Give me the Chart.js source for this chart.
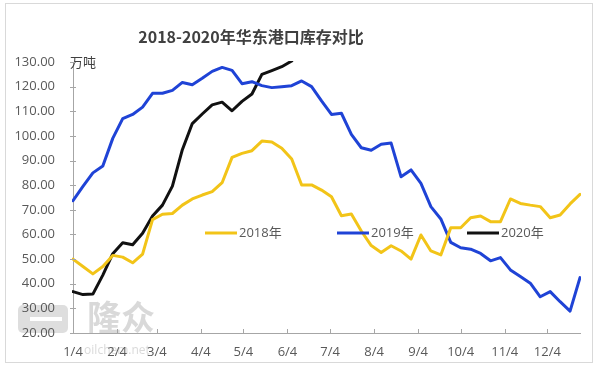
<!DOCTYPE html>
<html>
<head>
<meta charset="utf-8">
<script src="https://cdn.jsdelivr.net/npm/chart.js@4.4.1/dist/chart.umd.min.js"></script>
<style>
  html, body { margin: 0; padding: 0; background: #fff; }
  #wrap { width: 600px; height: 371px; }
</style>
</head>
<body>
<div id="wrap"><canvas id="stockChart" width="600" height="371"></canvas></div>
<script>
// weekly sample dates (plotted on one shared calendar)
const weeks = ['1/4', '1/11', '1/18', '1/25', '2/1', '2/8', '2/15', '2/22', '3/1', '3/8', '3/15', '3/22', '3/29',
    '4/5', '4/12', '4/19', '4/26', '5/3', '5/10', '5/17', '5/24', '5/31', '6/7', '6/14', '6/21', '6/28',
    '7/5', '7/12', '7/19', '7/26', '8/2', '8/9', '8/16', '8/23', '8/30', '9/6', '9/13', '9/20', '9/27',
    '10/4', '10/11', '10/18', '10/25', '11/1', '11/8', '11/15', '11/22', '11/29', '12/6', '12/13', '12/20', '12/27'];

// x axis tick labels
const monthTicks = ['1/4', '2/4', '3/4', '4/4', '5/4', '6/4', '7/4', '8/4', '9/4', '10/4', '11/4', '12/4'];

// inventory, 万吨
const stock2018 = [50.0, 47.0, 44.0, 47.0, 51.5, 50.8, 48.5, 52.0, 66.0, 68.2, 68.5, 71.9, 74.4,
    76.0, 77.4, 81.0, 91.3, 92.9, 94.0, 97.9, 97.5, 95.0, 90.6, 80.1, 80.1, 78.0,
    75.3, 67.6, 68.3, 61.4, 55.5, 52.7, 55.4, 53.3, 50.0, 59.8, 53.3, 51.7, 62.7,
    62.7, 66.8, 67.5, 65.2, 65.2, 74.4, 72.6, 71.9, 71.3, 66.8, 67.9, 72.4, 76.3];
const stock2019 = [73.7, 79.5, 85.0, 87.8, 99.0, 107.0, 108.7, 111.7, 117.3, 117.3, 118.5, 121.7, 120.8,
    123.4, 126.2, 127.8, 126.6, 121.2, 122.0, 120.4, 119.6, 120.0, 120.4, 122.3, 120.0, 114.2,
    108.7, 109.2, 100.6, 95.2, 94.2, 96.6, 97.1, 83.4, 86.2, 80.7, 71.3, 66.3, 56.8,
    54.6, 54.0, 52.3, 49.3, 50.6, 45.6, 42.9, 40.2, 34.7, 36.8, 32.7, 28.9, 42.5];
const stock2020 = [36.8, 35.6, 35.8, 43.5, 52.2, 56.6, 55.8, 60.5, 67.5, 71.9, 79.6, 94.4, 105.0,
    108.9, 112.6, 113.7, 110.2, 114.0, 117.0, 125.0, 126.5, 128.1, 130.4];

const seriesNames = ['2018年', '2019年', '2020年'];
const seriesColors = ['#f2c418', '#1f43d6', '#111111'];

const yTicks = [20, 30, 40, 50, 60, 70, 80, 90, 100, 110, 120, 130];

function dayOf(md) {
    const [m, d] = md.split('/').map(Number);
    return (Date.UTC(2019, m - 1, d) - Date.UTC(2019, 0, 4)) / 86400000;
}

function toPoints(values) {
    return values.map((v, i) => ({ x: dayOf(weeks[i]), y: v }));
}

const TEXT_FONT = '"Open Sans", "Noto Sans CJK SC", sans-serif';

// title, unit, legend, watermark, frame and inner tick marks
const decorations = {
    id: 'decorations',
    beforeDraw(chart) {
        const ctx = chart.ctx;
        ctx.save();
        ctx.strokeStyle = '#d9d9d9';
        ctx.lineWidth = 1;
        ctx.strokeRect(5.5, 3.5, 587, 359);

        // watermark
        ctx.fillStyle = 'rgba(190,190,190,0.5)';
        ctx.beginPath();
        ctx.roundRect(18, 305, 50, 28, 5);
        ctx.fill();
        ctx.fillStyle = '#fff';
        ctx.fillRect(30, 317, 32, 4);
        ctx.fillStyle = 'rgba(185,185,185,0.55)';
        ctx.font = 'bold 34px "Noto Sans CJK SC"';
        ctx.textAlign = 'center';
        ctx.textBaseline = 'middle';
        ctx.fillText('隆众', 121, 317);
        ctx.font = '12px "Open Sans"';
        ctx.fillText('oilchem.net', 117, 351);
        ctx.restore();
    },
    afterDraw(chart) {
        const ctx = chart.ctx;
        const { x, y } = chart.scales;
        const area = chart.chartArea;
        ctx.save();

        // title
        ctx.fillStyle = '#404040';
        ctx.font = 'bold 16px "Noto Sans CJK SC"';
        ctx.textAlign = 'center';
        ctx.textBaseline = 'middle';
        ctx.fillText('2018-2020年华东港口库存对比', 251, 37);

        // unit
        ctx.font = '13px "Noto Sans CJK SC"';
        ctx.textAlign = 'left';
        ctx.fillText('万吨', 70, 62);

        // tick marks pointing into the plot
        ctx.strokeStyle = '#a6a6a6';
        ctx.lineWidth = 1;
        ctx.beginPath();
        x.ticks.forEach(t => {
            const px = Math.round(x.getPixelForValue(t.value)) + 0.5;
            ctx.moveTo(px, area.bottom);
            ctx.lineTo(px, area.bottom - 4);
        });
        y.ticks.forEach(t => {
            const py = Math.round(y.getPixelForValue(t.value)) + 0.5;
            ctx.moveTo(area.left - 3, py);
            ctx.lineTo(area.left + 3, py);
        });
        ctx.stroke();

        // legend inside the plot
        const legendX = [205, 337, 467];
        const legendY = 233;
        chart.data.datasets.forEach((ds, i) => {
            ctx.strokeStyle = ds.borderColor;
            ctx.lineWidth = 3;
            ctx.beginPath();
            ctx.moveTo(legendX[i], legendY);
            ctx.lineTo(legendX[i] + 32, legendY);
            ctx.stroke();
            ctx.fillStyle = '#595959';
            ctx.font = '13px ' + TEXT_FONT;
            ctx.textAlign = 'left';
            ctx.textBaseline = 'middle';
            ctx.fillText(ds.label, legendX[i] + 34, legendY);
        });
        ctx.restore();
    }
};

const allSeries = [stock2018, stock2019, stock2020];

new Chart(document.getElementById('stockChart'), {
    type: 'line',
    data: {
        datasets: allSeries.map((vals, i) => ({
            label: seriesNames[i],
            data: toPoints(vals),
            borderColor: seriesColors[i],
            backgroundColor: seriesColors[i],
            borderWidth: 3,
            pointRadius: 0,
            tension: 0,
            borderJoinStyle: 'round',
            borderCapStyle: 'round',
            fill: false,
            clip: 1
        }))
    },
    options: {
        responsive: false,
        devicePixelRatio: 1,
        animation: false,
        layout: { padding: { top: 62, right: 20, left: 0, bottom: 0 } },
        plugins: {
            legend: { display: false },
            title: { display: false },
            tooltip: { enabled: false }
        },
        scales: {
            x: {
                type: 'linear',
                min: 0,
                max: dayOf(weeks[weeks.length - 1]),
                afterBuildTicks(axis) {
                    axis.ticks = monthTicks.map(m => ({ value: dayOf(m) }));
                },
                afterFit(axis) { axis.height = 38; },
                grid: { display: false, drawTicks: false },
                border: { display: true, color: '#a6a6a6', width: 1 },
                ticks: {
                    autoSkip: false,
                    maxRotation: 0,
                    padding: 11,
                    color: '#595959',
                    font: { family: TEXT_FONT, size: 13 },
                    callback(value) {
                        const m = monthTicks.find(t => dayOf(t) === value);
                        return m || '';
                    }
                }
            },
            y: {
                min: 20,
                max: 130,
                afterBuildTicks(axis) {
                    axis.ticks = yTicks.map(v => ({ value: v }));
                },
                afterFit(axis) { axis.width = 73; },
                grid: { display: false, drawTicks: false },
                border: { display: true, color: '#a6a6a6', width: 1 },
                ticks: {
                    padding: 18,
                    color: '#595959',
                    font: { family: TEXT_FONT, size: 13 },
                    callback: v => Number(v).toFixed(2)
                }
            }
        }
    },
    plugins: [decorations]
});
</script>
</body>
</html>
